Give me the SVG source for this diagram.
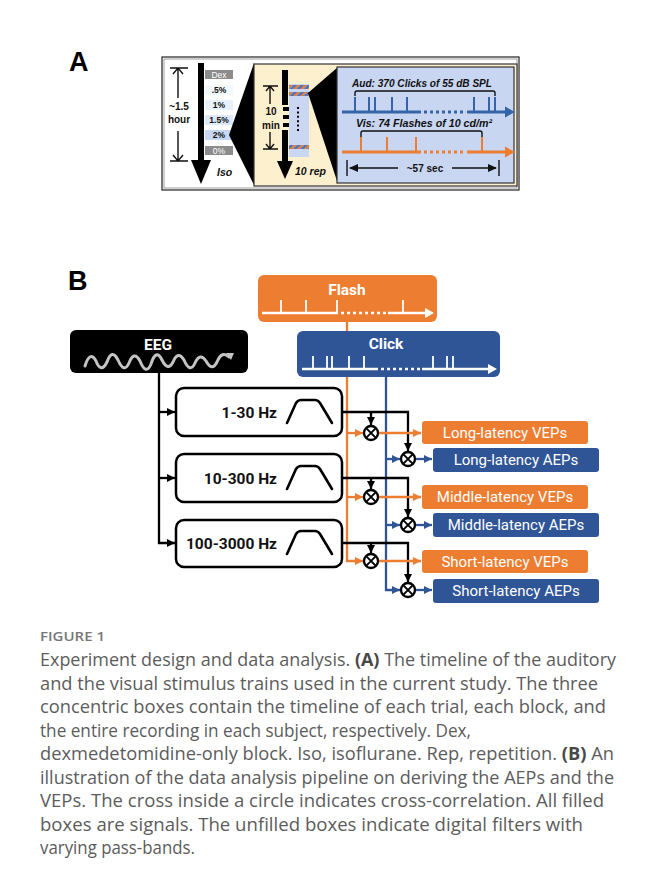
<svg xmlns="http://www.w3.org/2000/svg" width="656" height="888" viewBox="0 0 656 888">
  <style>
    .plabel { font-family: "Liberation Sans", Arial, sans-serif; font-weight: bold; font-size: 27px; fill: #000; }
    .a-bold { font-family: "Liberation Sans", Arial, sans-serif; font-weight: bold; font-size: 10px; fill: #111; }
    .a-it { font-family: "Liberation Sans", Arial, sans-serif; font-weight: bold; font-style: italic; font-size: 10.5px; fill: #111; }
    .dose { font-family: "Liberation Sans", Arial, sans-serif; font-weight: bold; font-size: 8.5px; fill: #111; text-anchor: middle; }
    .dose-w { fill: #fff; font-weight: normal; }
    .thin { stroke: #111; stroke-width: 1.4; fill: none; }
    .head { font-family: Roboto, "Liberation Sans", sans-serif; font-weight: bold; font-size: 15.5px; fill: #fff; text-anchor: middle; }
    .filt { font-family: Roboto, "Liberation Sans", sans-serif; font-weight: bold; font-size: 15.5px; fill: #111; text-anchor: end; }
    .filter-box { fill: #fff; stroke: #000; stroke-width: 2.5; }
    .out { font-family: Roboto, "Liberation Sans", sans-serif; font-size: 15px; fill: #fff; text-anchor: middle; }
    .vep { fill: #ed7d31; }
    .aep { fill: #2f5597; }
    .k { stroke: #000; stroke-width: 2.3; fill: none; }
    .o { stroke: #ed7d31; stroke-width: 2.3; fill: none; }
    .b { stroke: #2f5597; stroke-width: 2.3; fill: none; }
    .wtl { stroke: #fff; stroke-width: 2.5; fill: none; }
    .wtick { stroke: #fff; stroke-width: 1.8; }
    .xc { fill: #fff; stroke: #000; stroke-width: 2.3; }
    .xl { stroke: #000; stroke-width: 2; }
    .fig { font-family: "Open Sans", Lato, sans-serif; font-size: 13px; font-weight: 600; fill: #777; }
    .cap { font-family: "Open Sans", Lato, sans-serif; font-size: 17.4px; fill: #5c5c5c; }
    .cap tspan.bd { font-weight: bold; fill: #484848; }
  </style>
  <defs>
    <pattern id="stripe" width="5" height="5" patternUnits="userSpaceOnUse" patternTransform="rotate(45)">
      <rect width="2.5" height="5" fill="#ed7d31"/>
      <rect x="2.5" width="2.5" height="5" fill="#4472c4"/>
    </pattern>
    <marker id="ah-k" viewBox="0 0 10 10" refX="10" refY="5" markerWidth="8" markerHeight="8" markerUnits="userSpaceOnUse" orient="auto">
      <path d="M0,0 L10,5 L0,10 z" fill="#000"/>
    </marker>
    <marker id="ah-o" viewBox="0 0 10 10" refX="10" refY="5" markerWidth="8" markerHeight="8" markerUnits="userSpaceOnUse" orient="auto">
      <path d="M0,0 L10,5 L0,10 z" fill="#ed7d31"/>
    </marker>
    <marker id="ah-b" viewBox="0 0 10 10" refX="10" refY="5" markerWidth="8" markerHeight="8" markerUnits="userSpaceOnUse" orient="auto">
      <path d="M0,0 L10,5 L0,10 z" fill="#2f5597"/>
    </marker>
    <path id="bandpass" d="M287,423 L296,403 Q298,400 301,400 H315 Q318,400 320,403 L332,423" fill="none" stroke="#000" stroke-width="2.6" stroke-linecap="round" stroke-linejoin="round"/>
    <g id="xcross">
      <circle r="7" class="xc"/>
      <path d="M-4.6,-4.6 L4.6,4.6 M-4.6,4.6 L4.6,-4.6" class="xl"/>
    </g>
  </defs>

  <rect width="656" height="888" fill="#fff"/>

  <!-- ===== Panel A: stimulus timeline ===== -->
  <g id="panelA">
    <text class="plabel" x="69" y="71">A</text>

    <rect x="162" y="57" width="357" height="133" fill="#fff" stroke="#222" stroke-width="1.2"/>
    <rect x="164" y="59" width="353" height="129" fill="none" stroke="#888" stroke-width="0.8"/>

    <!-- whole recording -->
    <g id="recording">
      <path d="M170,68 H188 M178,68 V98 M173,74 L178,68 L183,74" class="thin"/>
      <text class="a-bold" x="179" y="110" text-anchor="middle">~1.5</text>
      <text class="a-bold" x="179" y="123" text-anchor="middle">hour</text>
      <path d="M170,161 H188 M178,131 V161 M173,155 L178,161 L183,155" class="thin"/>

      <rect x="198" y="63" width="6" height="99" fill="#000"/>
      <polygon points="191,160 211,160 201,184" fill="#000"/>

      <rect x="205" y="70" width="28" height="9" fill="#8c8c8c"/>
      <text class="dose dose-w" x="219" y="77.5">Dex</text>
      <rect x="205" y="85" width="28" height="10" fill="#f3f8fd"/>
      <text class="dose" x="219" y="93">.5%</text>
      <rect x="205" y="100" width="28" height="10" fill="#e7f0fb"/>
      <text class="dose" x="219" y="108">1%</text>
      <rect x="205" y="115" width="28" height="10" fill="#dde9f8"/>
      <text class="dose" x="219" y="123">1.5%</text>
      <rect x="205" y="130" width="28" height="10" fill="#c6d8f1"/>
      <text class="dose" x="219" y="138">2%</text>
      <rect x="205" y="146" width="28" height="9" fill="#8c8c8c"/>
      <text class="dose dose-w" x="219" y="153.5">0%</text>

      <text class="a-it" x="217" y="176">Iso</text>
      <polygon points="229,135 254,63 254,185" fill="#000"/>
    </g>

    <!-- one block -->
    <g id="block">
      <rect x="254" y="64" width="263" height="122" fill="#fdf0cf" stroke="#333" stroke-width="1.2"/>
      <rect x="289" y="84" width="20" height="73" fill="#c9d7f2"/>
      <rect x="289" y="85" width="20" height="4" fill="url(#stripe)"/>
      <rect x="289" y="92" width="20" height="4" fill="url(#stripe)"/>
      <rect x="289" y="145" width="20" height="4" fill="url(#stripe)"/>

      <rect x="282" y="70" width="6" height="35" fill="#000"/>
      <rect x="283" y="107" width="6" height="4" fill="#000"/>
      <rect x="283" y="115" width="6" height="4" fill="#000"/>
      <rect x="283" y="123" width="6" height="4" fill="#000"/>
      <rect x="282" y="130" width="6" height="33" fill="#000"/>
      <polygon points="277,161 293,161 285,179" fill="#000"/>
      <path d="M298,107 V131" stroke="#000" stroke-width="2" stroke-dasharray="2,2.4"/>

      <path d="M263,86 H278 M270,86 V104 M266,91 L270,86 L274,91" class="thin"/>
      <text class="a-bold" x="271" y="115" text-anchor="middle">10</text>
      <text class="a-bold" x="271" y="129" text-anchor="middle">min</text>
      <path d="M263,149 H278 M270,132 V149 M266,144 L270,149 L274,144" class="thin"/>

      <text class="a-it" x="295" y="175">10 rep</text>
      <polygon points="308,93 338,67 338,184" fill="#000"/>
    </g>

    <!-- one trial -->
    <g id="trial">
      <rect x="337" y="67" width="177" height="116" fill="#c8d6f1" stroke="#333" stroke-width="1.2"/>

      <text class="a-it" x="352" y="87" textLength="140" lengthAdjust="spacingAndGlyphs">Aud: 370 Clicks of 55 dB SPL</text>
      <path d="M355,96 V93 Q355,91 357,91 H493 Q495,91 495,93 V96" class="thin" stroke-width="1.2"/>
      <g stroke="#3564a8" stroke-width="3" fill="none">
        <path d="M342,112 H421"/>
        <path d="M424,112 H466" stroke-dasharray="3,3"/>
        <path d="M467,112 H506"/>
      </g>
      <polygon points="505,106.5 515,112 505,117.5" fill="#3564a8"/>
      <g stroke="#3564a8" stroke-width="2">
        <path d="M355,97 V112 M369,97 V112 M375,97 V112 M392,97 V112 M407,97 V112 M474,97 V112 M489,97 V112 M495,97 V112"/>
      </g>

      <text class="a-it" x="356" y="127" textLength="136" lengthAdjust="spacingAndGlyphs">Vis: 74 Flashes of 10 cd/m²</text>
      <path d="M361,137 V133 Q361,131 363,131 H480 Q482,131 482,133 V137" class="thin" stroke-width="1.2"/>
      <g stroke="#ed7d31" stroke-width="3" fill="none">
        <path d="M342,152 H421"/>
        <path d="M424,152 H466" stroke-dasharray="3,3"/>
        <path d="M467,152 H506"/>
      </g>
      <polygon points="505,146.5 515,152 505,157.5" fill="#ed7d31"/>
      <g stroke="#ed7d31" stroke-width="2">
        <path d="M361,137 V152 M387,137 V152 M416,137 V152 M482,137 V152"/>
      </g>

      <path d="M347,160 V176 M499,160 V176 M350,168 H398 M452,168 H496" class="thin" stroke-width="1.6"/>
      <polygon points="349,168 358,164 358,172" fill="#111"/>
      <polygon points="497,168 488,164 488,172" fill="#111"/>
      <text class="a-bold" x="425" y="172" text-anchor="middle">~57 sec</text>
    </g>
  </g>

  <!-- ===== Panel B: analysis pipeline ===== -->
  <text class="plabel" x="68" y="290">B</text>

  <!-- connectors -->
  <g id="connectors">
    <!-- stimulus references -->
    <path d="M347,322 V561 H363" class="o" marker-end="url(#ah-o)"/>
    <path d="M347,433 H363" class="o" marker-end="url(#ah-o)"/>
    <path d="M347,497 H363" class="o" marker-end="url(#ah-o)"/>
    <path d="M386,377 V590 H400" class="b" marker-end="url(#ah-b)"/>
    <path d="M386,459 H400" class="b" marker-end="url(#ah-b)"/>
    <path d="M386,525 H400" class="b" marker-end="url(#ah-b)"/>

    <!-- EEG into filters -->
    <path d="M159,373 V543 H175" class="k" marker-end="url(#ah-k)"/>
    <path d="M159,412 H175" class="k" marker-end="url(#ah-k)"/>
    <path d="M159,478 H175" class="k" marker-end="url(#ah-k)"/>

    <!-- filtered EEG into cross-correlators -->
    <path d="M342,412 H408 V451" class="k" marker-end="url(#ah-k)"/>
    <path d="M371,412 V425" class="k" marker-end="url(#ah-k)"/>
    <path d="M342,478 H408 V517" class="k" marker-end="url(#ah-k)"/>
    <path d="M371,478 V489" class="k" marker-end="url(#ah-k)"/>
    <path d="M342,543 H408 V582" class="k" marker-end="url(#ah-k)"/>
    <path d="M371,543 V553" class="k" marker-end="url(#ah-k)"/>

    <!-- outputs -->
    <path d="M378,433 H421" class="o" marker-end="url(#ah-o)"/>
    <path d="M378,497 H421" class="o" marker-end="url(#ah-o)"/>
    <path d="M378,561 H421" class="o" marker-end="url(#ah-o)"/>
    <path d="M415,459 H432" class="b" marker-end="url(#ah-b)"/>
    <path d="M415,525 H432" class="b" marker-end="url(#ah-b)"/>
    <path d="M415,590 H432" class="b" marker-end="url(#ah-b)"/>
  </g>

  <g id="flash">
    <rect x="258" y="275" width="179" height="47" rx="6" fill="#ed7d31"/>
    <text class="head" x="347" y="295">Flash</text>
    <path d="M262,313 H338 M388,313 H426" class="wtl"/>
    <path d="M341,313 H386" class="wtl" stroke-dasharray="3,3"/>
    <polygon points="425,308 434,313 425,318" fill="#fff"/>
    <path d="M281,300 V313 M306,300 V313 M337,300 V313 M403,300 V313" class="wtick"/>
  </g>

  <g id="click">
    <rect x="297" y="331" width="203" height="46" rx="6" fill="#2f5597"/>
    <text class="head" x="386" y="349">Click</text>
    <path d="M302,369 H378 M422,369 H489" class="wtl"/>
    <path d="M381,369 H421" class="wtl" stroke-dasharray="3,3"/>
    <polygon points="488,364 497,369 488,374" fill="#fff"/>
    <path d="M313,356 V369 M327,356 V369 M332,356 V369 M349,356 V369 M364,356 V369 M433,356 V369 M447,356 V369 M453,356 V369" class="wtick"/>
  </g>

  <g id="eeg">
    <rect x="70" y="330" width="178" height="43" rx="6" fill="#000"/>
    <text class="head" x="158" y="350">EEG</text>
    <path d="M85,366 Q90,350 96,361 Q101,374 107,362 Q112,348 118,360 Q124,374 129,363 Q134,350 140,361 Q146,376 151,364 Q156,348 162,360 Q168,372 173,362 Q178,350 184,360 Q190,374 195,363 Q200,352 206,361 Q212,372 217,362 Q222,350 229,357" fill="none" stroke="#c4c4c4" stroke-width="3" stroke-linecap="round" stroke-linejoin="round"/>
    <polygon points="226,353 234,353 231,360" fill="#c4c4c4"/>
  </g>

  <g id="filter-1-30">
    <rect x="176" y="388" width="166" height="48" rx="8" class="filter-box"/>
    <text class="filt" x="277" y="418">1-30 Hz</text>
    <use href="#bandpass"/>
  </g>
  <g id="filter-10-300">
    <rect x="176" y="454" width="166" height="48" rx="8" class="filter-box"/>
    <text class="filt" x="277" y="484">10-300 Hz</text>
    <use href="#bandpass" transform="translate(0,66)"/>
  </g>
  <g id="filter-100-3000">
    <rect x="176" y="520" width="166" height="47" rx="8" class="filter-box"/>
    <text class="filt" x="277" y="549">100-3000 Hz</text>
    <use href="#bandpass" transform="translate(0,131)"/>
  </g>

  <g id="xcorr">
    <use href="#xcross" x="371" y="433"/>
    <use href="#xcross" x="408" y="459"/>
    <use href="#xcross" x="371" y="497"/>
    <use href="#xcross" x="408" y="525"/>
    <use href="#xcross" x="371" y="561"/>
    <use href="#xcross" x="408" y="590"/>
  </g>

  <g id="long-vep">
    <rect x="422" y="421" width="166" height="23" rx="3" class="vep"/>
    <text class="out" x="505" y="438">Long-latency VEPs</text>
  </g>
  <g id="long-aep">
    <rect x="433" y="448" width="166" height="24" rx="3" class="aep"/>
    <text class="out" x="516" y="465">Long-latency AEPs</text>
  </g>
  <g id="middle-vep">
    <rect x="422" y="485" width="166" height="24" rx="3" class="vep"/>
    <text class="out" x="505" y="502">Middle-latency VEPs</text>
  </g>
  <g id="middle-aep">
    <rect x="433" y="513" width="166" height="24" rx="3" class="aep"/>
    <text class="out" x="516" y="530">Middle-latency AEPs</text>
  </g>
  <g id="short-vep">
    <rect x="422" y="550" width="166" height="23" rx="3" class="vep"/>
    <text class="out" x="505" y="567">Short-latency VEPs</text>
  </g>
  <g id="short-aep">
    <rect x="433" y="579" width="166" height="24" rx="3" class="aep"/>
    <text class="out" x="516" y="596">Short-latency AEPs</text>
  </g>

  <!-- ===== Caption ===== -->
  <g id="caption">
    <text class="fig" x="40" y="641" textLength="65" lengthAdjust="spacingAndGlyphs">FIGURE 1</text>
    <text class="cap" x="40" y="666" textLength="576" lengthAdjust="spacingAndGlyphs">Experiment design and data analysis. <tspan class="bd">(A)</tspan> The timeline of the auditory</text>
    <text class="cap" x="40" y="689.5" textLength="558" lengthAdjust="spacingAndGlyphs">and the visual stimulus trains used in the current study. The three</text>
    <text class="cap" x="40" y="713" textLength="566" lengthAdjust="spacingAndGlyphs">concentric boxes contain the timeline of each trial, each block, and</text>
    <text class="cap" x="40" y="736.5" textLength="431" lengthAdjust="spacingAndGlyphs">the entire recording in each subject, respectively. Dex,</text>
    <text class="cap" x="40" y="760" textLength="574" lengthAdjust="spacingAndGlyphs">dexmedetomidine-only block. Iso, isoflurane. Rep, repetition. <tspan class="bd">(B)</tspan> An</text>
    <text class="cap" x="40" y="783.5" textLength="574" lengthAdjust="spacingAndGlyphs">illustration of the data analysis pipeline on deriving the AEPs and the</text>
    <text class="cap" x="40" y="807" textLength="564" lengthAdjust="spacingAndGlyphs">VEPs. The cross inside a circle indicates cross-correlation. All filled</text>
    <text class="cap" x="40" y="830.5" textLength="543" lengthAdjust="spacingAndGlyphs">boxes are signals. The unfilled boxes indicate digital filters with</text>
    <text class="cap" x="40" y="854" textLength="155" lengthAdjust="spacingAndGlyphs">varying pass-bands.</text>
  </g>
</svg>
